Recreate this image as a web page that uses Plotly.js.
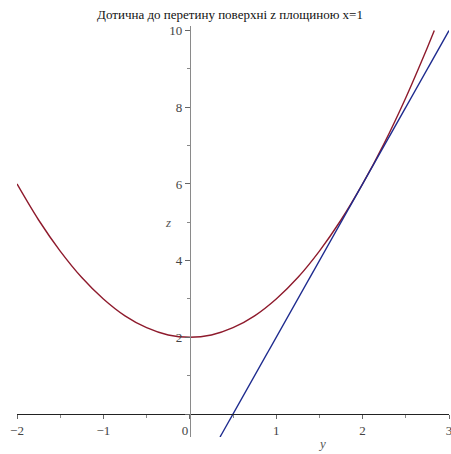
<!DOCTYPE html>
<html>
<head>
<meta charset="utf-8">
<script src="https://cdn.plot.ly/plotly-3.0.1.min.js"></script>
<style>
  html, body { margin: 0; padding: 0; background: #fff; }
  #chart { width: 451px; height: 454px; }
</style>
</head>
<body>
<div id="chart"></div>
<script>
// Section of the surface by the plane x = 1: z against y
const curveY = [-2, -1.75, -1.5, -1.25, -1, -0.75, -0.5, -0.25, 0, 0.25, 0.5, 0.75, 1, 1.25, 1.5, 1.75, 2, 2.25, 2.5, 2.75, 2.83];
const curveZ = [6, 5.06, 4.25, 3.56, 3, 2.56, 2.25, 2.06, 2, 2.06, 2.25, 2.56, 3, 3.56, 4.25, 5.06, 6, 7.06, 8.25, 9.56, 10.0];

// Tangent line at y = 2
const tangentY = [0.35, 3];
const tangentZ = [-0.6, 10];

const xTickVals = [-2, -1, 0, 1, 2, 3];
const xTickText = ['\u22122', '\u22121', '0\u00a0\u00a0\u00a0', '1', '2', '3'];
const zTickVals = [0, 2, 4, 6, 8, 10];
const zTickText = ['', '2', '4', '6', '8', '10'];

const serif = 'Liberation Serif, Times New Roman, serif';

const traces = [
  {
    x: curveY, y: curveZ, type: 'scatter', mode: 'lines',
    line: { color: '#8e1a2c', width: 1.4, shape: 'spline' },
    hoverinfo: 'skip'
  },
  {
    x: tangentY, y: tangentZ, type: 'scatter', mode: 'lines',
    line: { color: '#1d2a8e', width: 1.4 },
    hoverinfo: 'skip'
  }
];

const layout = {
  width: 451, height: 454,
  margin: { l: 17, r: 2, t: 26, b: 17 },
  paper_bgcolor: '#fff', plot_bgcolor: '#fff',
  showlegend: false,
  title: {
    text: 'Дотична до перетину поверхні z площиною x=1',
    font: { family: serif, size: 13, color: '#111' },
    x: 0.51, xanchor: 'center', y: 0.969, yanchor: 'middle'
  },
  xaxis: {
    range: [-2, 3],
    anchor: 'free', position: 0.6 / 10.72,
    showgrid: false, zeroline: false,
    showline: true, linecolor: '#222', linewidth: 1,
    tickmode: 'array', tickvals: xTickVals, ticktext: xTickText,
    ticks: 'outside', ticklen: 4, tickcolor: '#666',
    ticklabeloverflow: 'allow',
    minor: { dtick: 0.5, tick0: 0, ticks: 'outside', ticklen: 3, tickcolor: '#888' },
    tickfont: { family: serif, size: 13, color: '#444' }
  },
  yaxis: {
    range: [-0.6, 10.12],
    anchor: 'free', position: 0.4,
    showgrid: false, zeroline: false,
    showline: true, linecolor: '#8a8a8a', linewidth: 1.2,
    tickmode: 'array', tickvals: zTickVals, ticktext: zTickText,
    ticks: 'outside', ticklen: 5, tickcolor: '#666',
    ticklabeloverflow: 'allow',
    minor: { dtick: 1, tick0: 0, ticks: 'outside', ticklen: 3, tickcolor: '#888' },
    tickfont: { family: serif, size: 13, color: '#444' }
  },
  annotations: [
    { text: '<i>y</i>', xref: 'x', yref: 'paper', x: 1.53, y: -0.015, yanchor: 'middle',
      showarrow: false, font: { family: serif, size: 13, color: '#555' } },
    { text: '<i>z</i>', xref: 'x', yref: 'y', x: -0.25, y: 5.0, yanchor: 'middle',
      showarrow: false, font: { family: serif, size: 13, color: '#555' } }
  ]
};

Plotly.newPlot('chart', traces, layout, { staticPlot: true, displayModeBar: false });
</script>
</body>
</html>
